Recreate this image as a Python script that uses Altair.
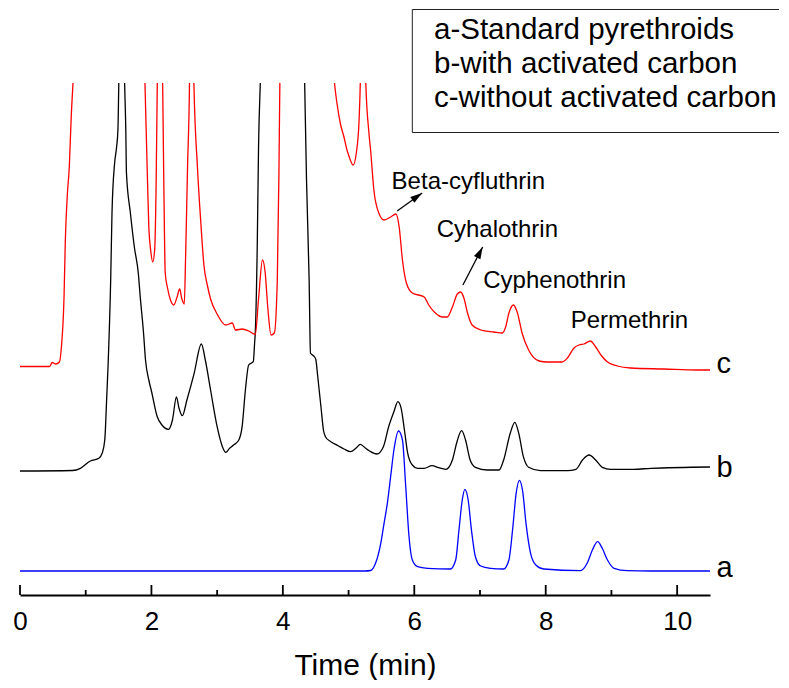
import altair as alt
import pandas as pd

FONT = "Liberation Sans, Arial, sans-serif"

# ---- trace a: standard pyrethroids (blue) ----
a_t = [0.00, 5.25, 5.335, 5.41, 5.49, 5.54, 5.59, 5.64, 5.69, 5.76, 5.82, 5.87, 5.92, 5.97, 6.05, 6.20,
       6.55, 6.63, 6.68, 6.73, 6.77, 6.82, 6.87, 6.93, 7.01, 7.16, 7.36, 7.44, 7.50, 7.55, 7.60, 7.65,
       7.70, 7.77, 7.85, 7.97, 8.53, 8.63, 8.71, 8.79, 8.86, 8.94, 9.04, 9.24, 9.60, 10.50]
a_v = [0, 0, 0.5, 7.7, 27.7, 47.7, 67.7, 94.3, 121, 140, 131, 84.3, 34.3, 11, 4.3, 2.7,
       2, 11, 41, 71, 81.7, 71, 41, 14.3, 5, 2.7, 2, 11, 44, 77.7, 90.7, 79.3,
       47.7, 17.7, 6, 2, 0.3, 7.7, 21, 29.3, 22.7, 11, 2.7, 0.3, 0, 0]

# ---- trace b: with activated carbon (black) ----
b_t = [0.00, 0.80, 0.92, 1.07, 1.20, 1.25, 1.29, 1.32, 1.34, 1.38, 1.40, 1.44, 1.47, 1.49, 1.505, 1.55,
       1.59, 1.61, 1.62, 1.68, 1.74, 1.80, 1.83, 1.88, 1.91, 1.96, 2.00, 2.09, 2.16, 2.26, 2.32, 2.38,
       2.42, 2.47, 2.54, 2.65, 2.76, 2.82, 2.90, 3.00, 3.08, 3.13, 3.19, 3.25, 3.33, 3.38, 3.43, 3.48,
       3.55, 3.57, 3.58, 3.61, 3.63, 3.66, 4.00, 4.33, 4.36, 4.40, 4.42, 4.47, 4.50, 4.53, 4.58, 4.62,
       4.65, 4.73, 4.84, 4.93, 5.03, 5.11, 5.18, 5.26, 5.32, 5.43, 5.53, 5.61, 5.69, 5.75, 5.80, 5.85,
       5.90, 5.97, 6.05, 6.15, 6.27, 6.37, 6.48, 6.58, 6.65, 6.72, 6.78, 6.85, 6.93, 7.11, 7.29, 7.36,
       7.46, 7.53, 7.59, 7.66, 7.74, 7.92, 8.33, 8.46, 8.56, 8.66, 8.76, 8.86, 8.99, 9.34, 9.60, 10.50]
b_v = [100, 100.5, 102.7, 110, 112.7, 117.7, 131, 174, 205, 291, 358, 408, 424, 441, 495, 700,
       495, 441, 398, 358, 324, 298, 274, 238, 211, 191, 180, 154, 146, 141.7, 151, 174,
       162.7, 155.3, 171, 197.7, 227, 211, 181, 144.3, 124.3, 118.7, 122.7, 126, 131, 144.3, 181, 206,
       209.3, 227.7, 238, 324, 424, 495, 1200, 495, 391, 291, 218, 215, 212, 195, 164, 140,
       134, 129.3, 125.3, 122, 119.3, 122.7, 126.7, 122.7, 120, 117, 124.3, 144.3, 159.3, 169.3, 162.7, 141,
       117.7, 106, 102.7, 102.7, 105.3, 103.3, 101.7, 111, 129.3, 140.3, 131, 111, 103.7, 101, 101, 111,
       137.7, 148.7, 137.7, 114.3, 103.7, 100.3, 100.3, 101.7, 111, 116, 111, 103.7, 101.7, 101.7, 102.7, 104]

# ---- trace c: without activated carbon (red) ----
c_t = [0.00, 0.45, 0.49, 0.545, 0.60, 0.63, 0.67, 0.69, 0.72, 0.75, 0.78, 0.81, 1.35, 1.90, 1.94, 1.96,
       1.99, 2.02, 2.05, 2.07, 2.09, 2.13, 2.17, 2.19, 2.21, 2.245, 2.29, 2.34, 2.39, 2.43, 2.46, 2.50,
       2.52, 2.55, 2.58, 2.61, 2.645, 2.70, 2.75, 2.80, 2.85, 2.90, 3.00, 3.13, 3.23, 3.28, 3.38, 3.48,
       3.58, 3.63, 3.69, 3.73, 3.77, 3.82, 3.87, 3.915, 3.94, 3.955, 4.40, 4.78, 4.825, 4.88, 4.93, 4.98,
       5.00, 5.07, 5.12, 5.16, 5.18, 5.22, 5.26, 5.31, 5.335, 5.385, 5.46, 5.54, 5.64, 5.72, 5.77, 5.82,
       5.88, 5.97, 6.15, 6.22, 6.32, 6.43, 6.50, 6.58, 6.655, 6.705, 6.755, 6.81, 6.88, 7.01, 7.21, 7.34,
       7.39, 7.44, 7.51, 7.57, 7.64, 7.74, 7.90, 8.02, 8.25, 8.33, 8.43, 8.505, 8.58, 8.68, 8.76, 8.84,
       8.94, 9.09, 9.29, 9.80, 10.31, 10.50]
c_v = [204.5, 204.5, 208.5, 207, 209, 224, 274, 331, 376, 404, 455, 492, 1500, 492, 391, 345,
       320, 309, 322, 380, 492, 700, 492, 380, 298, 283, 271, 266, 274, 282, 273, 267,
       314, 405, 492, 800, 492, 404, 350, 305, 286, 272, 257, 246, 248, 241, 242, 240,
       236.5, 272, 311, 299, 264, 236, 238, 290, 396, 492, 1500, 492, 467, 446, 434, 420,
       416, 406, 419, 451, 492, 700, 492, 438, 421, 381, 358, 351, 354, 357, 344, 311,
       288, 278, 274, 266, 258, 254, 254, 264, 277, 279, 273, 258, 246, 241, 239, 238,
       244, 258, 266, 258, 238, 221, 210, 209, 209, 213, 223, 226, 227, 230, 224, 216,
       209, 205, 203, 202, 201, 201]

# ---- annotations ----
peak_names = ["Beta-cyfluthrin", "Cyhalothrin", "Cyphenothrin", "Permethrin"]
peak_label_t = [5.655, 6.34, 7.05, 8.38]
peak_label_v = [381.7, 333.7, 282.7, 242.7]

arrow_t0 = [5.74, 6.74]
arrow_v0 = [360, 286]
arrow_t1 = [6.12, 7.04]
arrow_v1 = [378, 324]
arrow_angle = [55, 27]

trace_names = ["a", "b", "c"]
trace_label_t = [10.60, 10.60, 10.60]
trace_label_v = [-6, 94, 198]

legend_lines = ["a-Standard pyrethroids", "b-with activated carbon", "c-without activated carbon"]
legend_t = [6.30, 6.30, 6.30]
legend_v = [531.7, 497.7, 463.7]
# legend frame: left edge, top and bottom edges (right edge lies outside the picture)
frame_t0 = [5.97, 5.97, 5.97]
frame_t1 = [5.97, 11.55, 11.55]
frame_v0 = [438.5, 561.5, 438.5]
frame_v1 = [561.5, 561.5, 438.5]

major_ticks = [0, 2, 4, 6, 8, 10]
minor_ticks = [1, 3, 5, 7, 9]

assert len(a_t) == len(a_v) and len(b_t) == len(b_v) and len(c_t) == len(c_v)

PLOT_W, PLOT_H = 690, 512

df = pd.concat([
    pd.DataFrame({"t": a_t, "v": a_v, "s": "a"}),
    pd.DataFrame({"t": b_t, "v": b_v, "s": "b"}),
    pd.DataFrame({"t": c_t, "v": c_v, "s": "c"}),
], ignore_index=True)

xs = alt.Scale(domain=[0, 10.5], nice=False, zero=False)
ys = alt.Scale(domain=[-24, 488], nice=False, zero=False)

x_axis = alt.Axis(values=major_ticks, ticks=False, tickSize=0, grid=False, domainColor="black",
                  domainWidth=2, labelFontSize=26, labelFont=FONT, labelColor="black",
                  labelPadding=13, labelFlush=False, format="d", titleFontSize=30, titleFont=FONT,
                  titleFontWeight="normal", titleColor="black", titleBaseline="alphabetic", titleY=79)

lines = alt.Chart(df).mark_line(clip=True, interpolate="monotone", strokeWidth=1.3).encode(
    x=alt.X("t:Q", scale=xs, axis=x_axis, title="Time (min)"),
    y=alt.Y("v:Q", scale=ys, axis=None),
    color=alt.Color("s:N", scale=alt.Scale(domain=["a", "b", "c"],
                                          range=["#0000ff", "#000000", "#ff0000"]), legend=None),
    detail="s:N",
)

maj = alt.Chart(pd.DataFrame({"t": major_ticks})).mark_rule(color="black", strokeWidth=1.8).encode(
    x=alt.X("t:Q", scale=xs), y=alt.value(PLOT_H), y2=alt.value(PLOT_H - 10))
mnr = alt.Chart(pd.DataFrame({"t": minor_ticks})).mark_rule(color="black", strokeWidth=1.8).encode(
    x=alt.X("t:Q", scale=xs), y=alt.value(PLOT_H), y2=alt.value(PLOT_H - 5))

arr_df = pd.DataFrame({"t0": arrow_t0, "v0": arrow_v0, "t1": arrow_t1, "v1": arrow_v1, "ang": arrow_angle})
arr_lines = alt.Chart(arr_df).mark_rule(color="black", strokeWidth=1.3).encode(
    x=alt.X("t0:Q", scale=xs), y=alt.Y("v0:Q", scale=ys), x2="t1:Q", y2="v1:Q")
arr_heads = alt.Chart(arr_df).mark_point(shape="M0,0L-0.6,2L0.6,2Z", filled=True, size=144,
                                         color="black", opacity=1).encode(
    x=alt.X("t1:Q", scale=xs), y=alt.Y("v1:Q", scale=ys), angle=alt.Angle("ang:Q", scale=None))

peak_txt = alt.Chart(pd.DataFrame({"t": peak_label_t, "v": peak_label_v, "n": peak_names})).mark_text(
    align="left", baseline="alphabetic", fontSize=24, font=FONT, color="black").encode(
    x=alt.X("t:Q", scale=xs), y=alt.Y("v:Q", scale=ys), text="n:N")

trace_txt = alt.Chart(pd.DataFrame({"t": trace_label_t, "v": trace_label_v, "n": trace_names})).mark_text(
    align="left", baseline="alphabetic", fontSize=29, font=FONT, color="black").encode(
    x=alt.X("t:Q", scale=xs), y=alt.Y("v:Q", scale=ys), text="n:N")

frame = alt.Chart(pd.DataFrame({"t0": frame_t0, "t1": frame_t1, "v0": frame_v0, "v1": frame_v1})).mark_rule(
    color="#222222", strokeWidth=1).encode(
    x=alt.X("t0:Q", scale=xs), x2="t1:Q", y=alt.Y("v0:Q", scale=ys), y2="v1:Q")

leg_txt = alt.Chart(pd.DataFrame({"t": legend_t, "v": legend_v, "n": legend_lines})).mark_text(
    align="left", baseline="alphabetic", fontSize=29.5, font=FONT, color="black").encode(
    x=alt.X("t:Q", scale=xs), y=alt.Y("v:Q", scale=ys), text="n:N")

chart = alt.layer(lines, maj, mnr, arr_lines, arr_heads, peak_txt, trace_txt, frame, leg_txt).properties(
    width=PLOT_W, height=PLOT_H,
    padding={"left": 12, "top": 75, "right": 71, "bottom": 85},
    autosize=alt.AutoSizeParams(type="none"),
    background="white",
).configure_view(stroke=None)

chart.save("out.html", embed_options={"renderer": "svg", "actions": False})
